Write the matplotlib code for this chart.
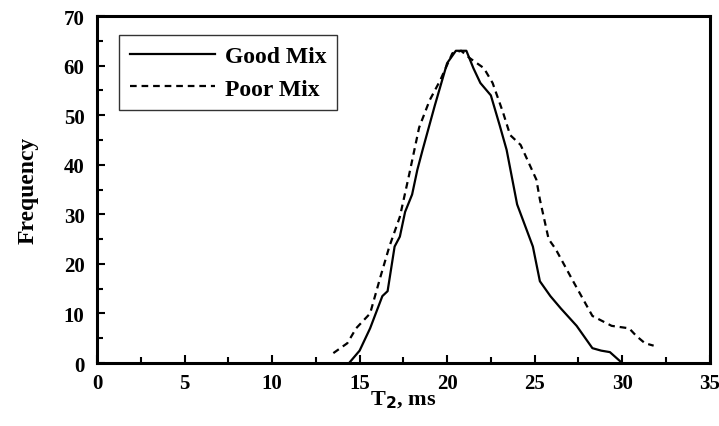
import matplotlib.pyplot as plt
from matplotlib.ticker import MultipleLocator

plt.rcParams['font.family'] = 'Liberation Serif'
plt.rcParams['font.weight'] = 'bold'

# Good Mix (solid)
good_t2 = [14.4, 15.0, 15.6, 16.3, 16.6, 17.0, 17.3, 17.6, 18.0, 18.3, 18.6,
           19.3, 20.0, 20.5, 21.1, 21.5, 21.9, 22.5, 23.0, 23.4, 24.0, 24.9,
           25.3, 25.9, 26.5, 27.4, 28.3, 28.8, 29.3, 30.0]
good_freq = [0, 2.5, 7, 13.5, 14.5, 23.5, 25.5, 30.5, 34, 39, 43,
             52, 60.5, 63, 63, 59.5, 56.5, 54, 48, 43, 32, 23.5,
             16.5, 13.5, 11, 7.5, 3, 2.5, 2.2, 0]

# Poor Mix (dashed)
poor_t2 = [13.5, 14.3, 14.8, 15.2, 15.6, 16.2, 16.7, 17.3, 17.8, 18.4, 19.0,
           19.6, 20.3, 20.8, 21.3, 22.1, 22.6, 23.2, 23.6, 24.2, 25.1, 25.3,
           25.8, 26.2, 27.2, 28.3, 29.4, 30.4, 30.8, 31.3, 31.8]
poor_freq = [2, 4, 7, 8.5, 10, 17.5, 23.5, 29.5, 37.5, 47.5, 53,
             57, 62.5, 63, 61.5, 59.5, 56.5, 50.5, 46, 44, 37, 33,
             25, 23, 16.5, 9.5, 7.5, 7, 5.5, 4, 3.5]

fig = plt.figure(figsize=(7.19, 4.27), dpi=100)
ax = fig.add_axes([0.135, 0.1475, 0.852, 0.8125])

ax.plot(good_t2, good_freq, '-', color='black', lw=1.6, label='Good Mix')
ax.plot(poor_t2, poor_freq, '--', color='black', lw=1.6, dashes=(3, 2.2), label='Poor Mix')

ax.set_xlim(0, 35)
ax.set_ylim(0, 70)
ax.xaxis.set_major_locator(MultipleLocator(5))
ax.xaxis.set_minor_locator(MultipleLocator(2.5))
ax.yaxis.set_major_locator(MultipleLocator(10))
ax.yaxis.set_minor_locator(MultipleLocator(5))
ax.tick_params(which='both', direction='in', width=1.5, labelsize=15)
ax.tick_params(which='major', length=6)
ax.tick_params(which='minor', length=4)
ax.tick_params(axis='x', pad=7)
ax.tick_params(axis='y', pad=9)
for s in ax.spines.values():
    s.set_linewidth(2.2)

ax.set_xlabel('T$_2$, ms', fontsize=16, fontweight='bold', labelpad=-3)
ax.set_ylabel('Frequency', fontsize=17, fontweight='bold', labelpad=18)

leg = ax.legend(loc='upper left', bbox_to_anchor=(0.025, 0.965), fontsize=17,
                frameon=True, fancybox=False, handlelength=3.6, handletextpad=0.4,
                borderpad=0.45, labelspacing=0.45, borderaxespad=0.3)
leg.get_frame().set_edgecolor('black')
leg.get_frame().set_linewidth(1.0)

fig.savefig('out.png', dpi=100)
